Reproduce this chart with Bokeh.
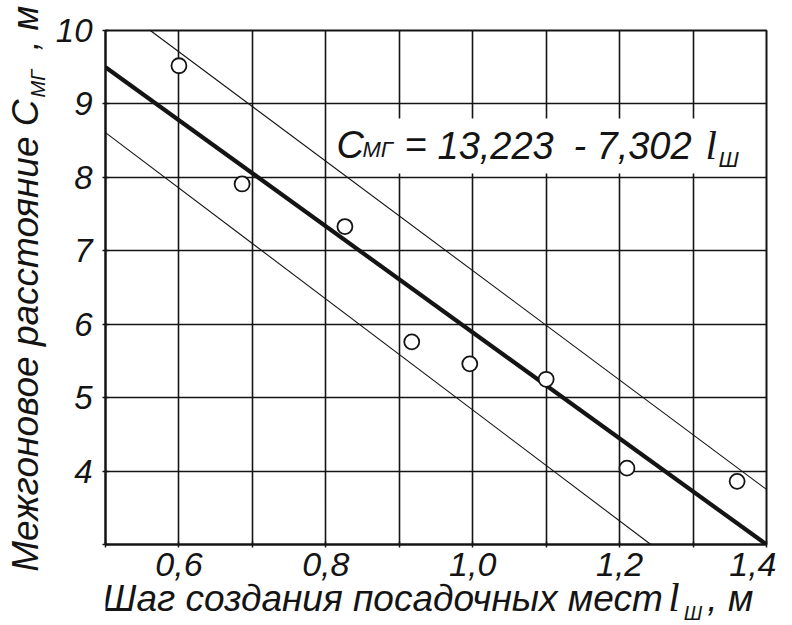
import math
from bokeh.plotting import figure
from bokeh.layouts import row, column
from bokeh.models import FixedTicker, CustomJSTickFormatter, Label, Range1d
from bokeh.embed import file_html
from bokeh.resources import INLINE

# ---- data ----
step_x = [0.600, 0.686, 0.826, 0.917, 0.996, 1.100, 1.210, 1.360]
spacing_y = [9.52, 7.91, 7.33, 5.76, 5.46, 5.25, 4.04, 3.86]

fit_x = [0.5, 1.4]
fit_y = [9.50, 3.00]
upper_x = [0.561, 1.4]
upper_y = [10.0, 3.75]
lower_x = [0.5, 1.2425]
lower_y = [8.61, 3.0]

x_ticks = [0.5, 0.6, 0.7, 0.8, 0.9, 1.0, 1.1, 1.2, 1.3, 1.4]
y_ticks = [3, 4, 5, 6, 7, 8, 9, 10]
x_grid = [0.6, 0.7, 0.8, 0.9, 1.0, 1.1, 1.2, 1.3]
y_grid = [4, 5, 6, 7, 8, 9]

INK = "#141414"
SANS = "Liberation Sans"
SERIF = "Liberation Serif"
K = 0.30   # empirical baseline correction (fraction of font size)

# ---- layout sizes (page pixels) ----
YT_W = 50            # strip for the y-axis title
TOTAL_W = 776
TOTAL_H = 625
P_H = 590            # main plot height
OVERLAP = 20         # x-title strip slides up over the plot's bottom border
XT_Y0 = P_H - OVERLAP
XT_H = TOTAL_H - XT_Y0

p = figure(width=TOTAL_W - YT_W, height=P_H, x_range=Range1d(0.5, 1.4), y_range=Range1d(3, 10),
           output_backend="svg", toolbar_location=None, title=None,
           min_border_left=55, min_border_right=10, min_border_top=30, min_border_bottom=46)
p.background_fill_color = "white"
p.border_fill_color = "white"
p.outline_line_color = INK
p.outline_line_width = 2

# page pixel -> data helpers (frame spans x 105..766, y 30..544)
def dx(px):
    return 0.5 + (px - 105) / 661 * 0.9

def dy(py):
    return 10 - (py - 30) / 514 * 7

# grid
p.xgrid.ticker = FixedTicker(ticks=x_grid)
p.ygrid.ticker = FixedTicker(ticks=y_grid)
for g in (p.xgrid, p.ygrid):
    g.grid_line_color = INK
    g.grid_line_width = 1.6
    g.grid_line_alpha = 1.0

# axes
p.xaxis.ticker = FixedTicker(ticks=x_ticks)
p.yaxis.ticker = FixedTicker(ticks=y_ticks)
p.xaxis.formatter = CustomJSTickFormatter(code="""
const v = Math.round(tick*10);
return (v % 2 == 0 && v > 5) ? (v/10).toFixed(1).replace('.', ',') : '';
""")
p.yaxis.formatter = CustomJSTickFormatter(code="""
return tick < 3.5 ? '' : String(Math.round(tick));
""")
for ax in (p.xaxis, p.yaxis):
    ax.axis_line_color = INK
    ax.axis_line_width = 2
    ax.major_tick_line_color = INK
    ax.major_tick_line_width = 1.5
    ax.major_tick_out = 3
    ax.major_tick_in = 3
    ax.minor_tick_line_color = None
    ax.major_label_text_font = SANS
    ax.major_label_text_font_style = "italic"
    ax.major_label_text_color = INK
p.xaxis.major_label_text_font_size = "34px"
p.yaxis.major_label_text_font_size = "33px"
p.xaxis.major_label_standoff = 5
p.yaxis.major_label_standoff = 10

# white box behind the equation
p.quad(left=[dx(329)], right=[dx(763)], bottom=[dy(173)], top=[dy(118)],
       fill_color="white", line_color=None)

# lines
p.line(upper_x, upper_y, line_color=INK, line_width=1.1)
p.line(lower_x, lower_y, line_color=INK, line_width=1.1)
p.line(fit_x, fit_y, line_color=INK, line_width=4.2)

# points
p.scatter(step_x, spacing_y, marker="circle", size=15, fill_color="white",
          line_color=INK, line_width=1.8)

def lab(fig, text, x, y, size, font=SANS, align="left", angle=0.0):
    fig.add_layout(Label(x=x, y=y, text=text, text_font=font,
                         text_font_style="italic", text_font_size=f"{size}px",
                         text_color=INK, text_align=align, text_baseline="alphabetic",
                         angle=angle))

def plab(text, px, py, size, font=SANS):
    # text in the plot frame, given by page pixel of its baseline start
    lab(p, text, dx(px), dy(py - K * size), size, font=font)

# equation (inside the plot frame)
plab("С", 336, 156, 38)
plab("МГ", 362, 156, 22)
plab("=", 404, 156, 38)
plab("13,223", 437, 156, 38)
plab("-", 573, 156, 38)
plab("7,302", 596, 156, 38)
plab("l", 705, 157, 41, font=SERIF)
plab("Ш", 718, 166, 22)

def strip(width, height, x0, y0, **kw):
    f = figure(width=width, height=height, x_range=Range1d(x0, x0 + width),
               y_range=Range1d(y0 + height, y0), output_backend="svg",
               toolbar_location=None, title=None, x_axis_type=None, y_axis_type=None,
               min_border=0, **kw)
    f.min_border_left = f.min_border_right = f.min_border_top = f.min_border_bottom = 0
    f.outline_line_color = None
    f.background_fill_color = None
    f.border_fill_color = None
    return f

# y-axis title strip (page coords x 0..50, y 0..625); rotated text, baseline at page x
yfig = strip(YT_W, TOTAL_H, 0, 0)
A = math.pi / 2
def ylab(text, bx, py, size, align="left"):
    lab(yfig, text, bx - K * size, py, size, align=align, angle=A)

ylab("Межгоновое расстояние С", 36, 99, 37, align="right")
ylab("МГ", 43, 97, 20)
ylab(", м", 36, 50, 36)

# x-axis title strip (page coords x 50..776, y 570..625), transparent, overlapping upward
xfig = strip(TOTAL_W - YT_W, XT_H, YT_W, XT_Y0, margin=(-OVERLAP, 0, 0, 0))
def xlab(text, px, by, size, font=SANS, align="left"):
    lab(xfig, text, px, by - K * size, size, font=font, align=align)

xlab("Шаг создания посадочных мест", 662, 609, 37, align="right")
xlab("l", 668, 609, 41, font=SERIF)
xlab("Ш", 685, 618, 20)
xlab(", м", 711, 609, 37)

layout = row(yfig, column(p, xfig, spacing=0), spacing=0)
open("out.html", "w").write(file_html(layout, INLINE))
